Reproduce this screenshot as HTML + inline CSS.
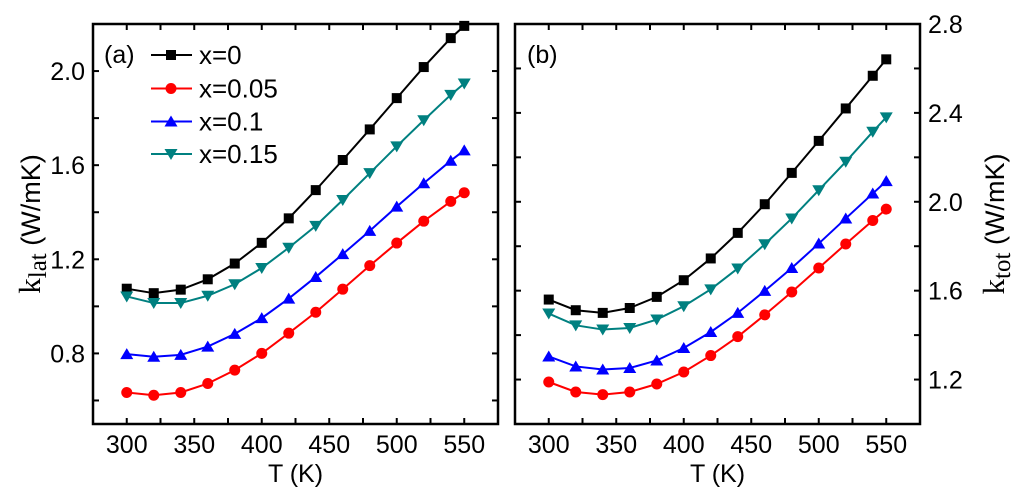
<!DOCTYPE html>
<html><head><meta charset="utf-8"><style>
html,body{margin:0;padding:0;background:#fff;}
svg{display:block;font-family:"Liberation Sans",Arial,sans-serif;}
</style></head><body>
<svg id="chart" width="1024" height="498" viewBox="0 0 1024 498"></svg>
<script>
const temps = [300,320,340,360,380,400,420,440,460,480,500,520,540,550];
const seriesNames = ["x=0","x=0.05","x=0.1","x=0.15"];
const latX0 = [1.075,1.056,1.071,1.115,1.182,1.27,1.374,1.494,1.622,1.752,1.885,2.017,2.14,2.192];
const latX005 = [0.634,0.622,0.634,0.672,0.729,0.8,0.886,0.975,1.073,1.173,1.269,1.362,1.446,1.483];
const latX01 = [0.797,0.786,0.794,0.829,0.883,0.95,1.033,1.125,1.222,1.321,1.424,1.523,1.619,1.663];
const latX015 = [1.042,1.014,1.014,1.045,1.094,1.163,1.249,1.342,1.452,1.566,1.68,1.791,1.899,1.947];
const totX0 = [1.56,1.512,1.5,1.522,1.572,1.647,1.745,1.86,1.989,2.13,2.274,2.42,2.567,2.641];
const totX005 = [1.189,1.144,1.132,1.144,1.18,1.234,1.308,1.393,1.491,1.594,1.702,1.81,1.916,1.967];
const totX01 = [1.304,1.259,1.245,1.252,1.286,1.342,1.414,1.5,1.599,1.702,1.812,1.925,2.037,2.093];
const totX015 = [1.497,1.444,1.425,1.432,1.47,1.53,1.606,1.7,1.809,1.925,2.052,2.18,2.315,2.38];
const xTickLabels = ["300","350","400","450","500","550"];
const latYTickLabels = ["0.8","1.2","1.6","2.0"];
const totYTickLabels = ["1.2","1.6","2.0","2.4","2.8"];

const NS="http://www.w3.org/2000/svg";
const svg=document.getElementById('chart');
const colors=["#000000","#ff0000","#0000ff","#008080"];
const markers=["square","circle","up","down"];
function el(tag,attrs,parent){const e=document.createElementNS(NS,tag);for(const k in attrs)e.setAttribute(k,attrs[k]);(parent||svg).appendChild(e);return e;}

function marker(g,type,cx,cy,color){
  let m;
  if(type==="square") m=el('rect',{x:cx-5,y:cy-5,width:10,height:10,fill:color},g);
  else if(type==="circle") m=el('circle',{cx:cx,cy:cy,r:5.5,fill:color},g);
  else if(type==="up") m=el('polygon',{points:`${cx},${cy-6} ${cx+6.5},${cy+5} ${cx-6.5},${cy+5}`,fill:color},g);
  else m=el('polygon',{points:`${cx},${cy+6} ${cx+6.5},${cy-5} ${cx-6.5},${cy-5}`,fill:color},g);
  
  
}

function panel(opt){
  const {L,R,T,B,xmin,xmax,ymin,ymax,data,yLabels,name,rightAxis}=opt;
  const sx=v=>L+(v-xmin)/(xmax-xmin)*(R-L);
  const sy=v=>B-(v-ymin)/(ymax-ymin)*(B-T);
  const g=el('g',{});
  
  
  const tg=el('g',{stroke:'#000','stroke-width':2},g);
  
  
  for(let v=xmin+25;v<xmax;v+=25){
    const x=sx(v);
    el('line',{x1:x,y1:B,x2:x,y2:B-6},tg);
    el('line',{x1:x,y1:T,x2:x,y2:T+6},tg);
  }
  for(let k=Math.ceil(ymin/0.2+1e-6);k*0.2<ymax-1e-6;k++){
    const y=sy(k*0.2);
    el('line',{x1:L,y1:y,x2:L+6,y2:y},tg);
    el('line',{x1:R,y1:y,x2:R-6,y2:y},tg);
  }
  xTickLabels.forEach(s=>{
    const t=el('text',{x:sx(+s),y:453,'font-size':25,'text-anchor':'middle',fill:'#000'},g);
    t.textContent=s;
    
    
  });
  yLabels.forEach(s=>{
    const t=el('text',{x:rightAxis?R+8:L-8,y:sy(+s)+9,'font-size':25,'text-anchor':rightAxis?'start':'end',fill:'#000'},g);
    t.textContent=s;
    
    
  });
  const xt=el('text',{x:(L+R)/2,y:482,'font-size':25,'text-anchor':'middle',fill:'#000'},g);
  xt.textContent="T (K)";
  
  
  data.forEach((arr,i)=>{
    const sg=el('g',{},g);
    
    
    const pts=arr.map((v,j)=>sx(temps[j])+','+sy(v)).join(' ');
    const pl=el('polyline',{points:pts,fill:'none',stroke:colors[i],'stroke-width':2},sg);
    
    
    arr.forEach((v,j)=>marker(sg,markers[i],sx(temps[j]),sy(v),colors[i]));
  });
  const fr=el('rect',{x:L,y:T,width:R-L,height:B-T,fill:'none',stroke:'#000','stroke-width':2.5},g);
  
  
  return g;
}

panel({L:93,R:498,T:24,B:424,xmin:275,xmax:575,ymin:0.5,ymax:2.2,data:[latX0,latX005,latX01,latX015],yLabels:latYTickLabels,name:'panel-a',rightAxis:false});
panel({L:515,R:920,T:24,B:424,xmin:275,xmax:575,ymin:1.0,ymax:2.8,data:[totX0,totX005,totX01,totX015],yLabels:totYTickLabels,name:'panel-b',rightAxis:true});

const pa=el('text',{x:104,y:63,'font-size':25,fill:'#000'});pa.textContent="(a)";


const pb=el('text',{x:527,y:63,'font-size':25,fill:'#000'});pb.textContent="(b)";



const ya=el('text',{transform:'translate(40,224) rotate(-90)','font-size':27,'text-anchor':'middle',fill:'#000'});


ya.innerHTML='<tspan font-family="Liberation Serif" font-size="31">k</tspan><tspan font-family="Liberation Serif" font-size="25" dy="6">lat</tspan><tspan dy="-6"> (W/mK)</tspan>';
const yb=el('text',{transform:'translate(1004,224) rotate(-90)','font-size':27,'text-anchor':'middle',fill:'#000'});


yb.innerHTML='<tspan font-family="Liberation Serif" font-size="31">k</tspan><tspan font-family="Liberation Serif" font-size="25" dy="6">tot</tspan><tspan dy="-6"> (W/mK)</tspan>';

const lg=el('g',{});


const legY=[55,88.5,121.5,154];
seriesNames.forEach((n,i)=>{
  const eg=el('g',{},lg);
  
  
  el('line',{x1:151,y1:legY[i],x2:192,y2:legY[i],stroke:colors[i],'stroke-width':2},eg);
  marker(eg,markers[i],171,legY[i],colors[i]);
  const t=el('text',{x:199,y:legY[i]+9,'font-size':26,fill:'#000'},eg);
  t.textContent=n;
  
  
});
</script>
</body></html>
